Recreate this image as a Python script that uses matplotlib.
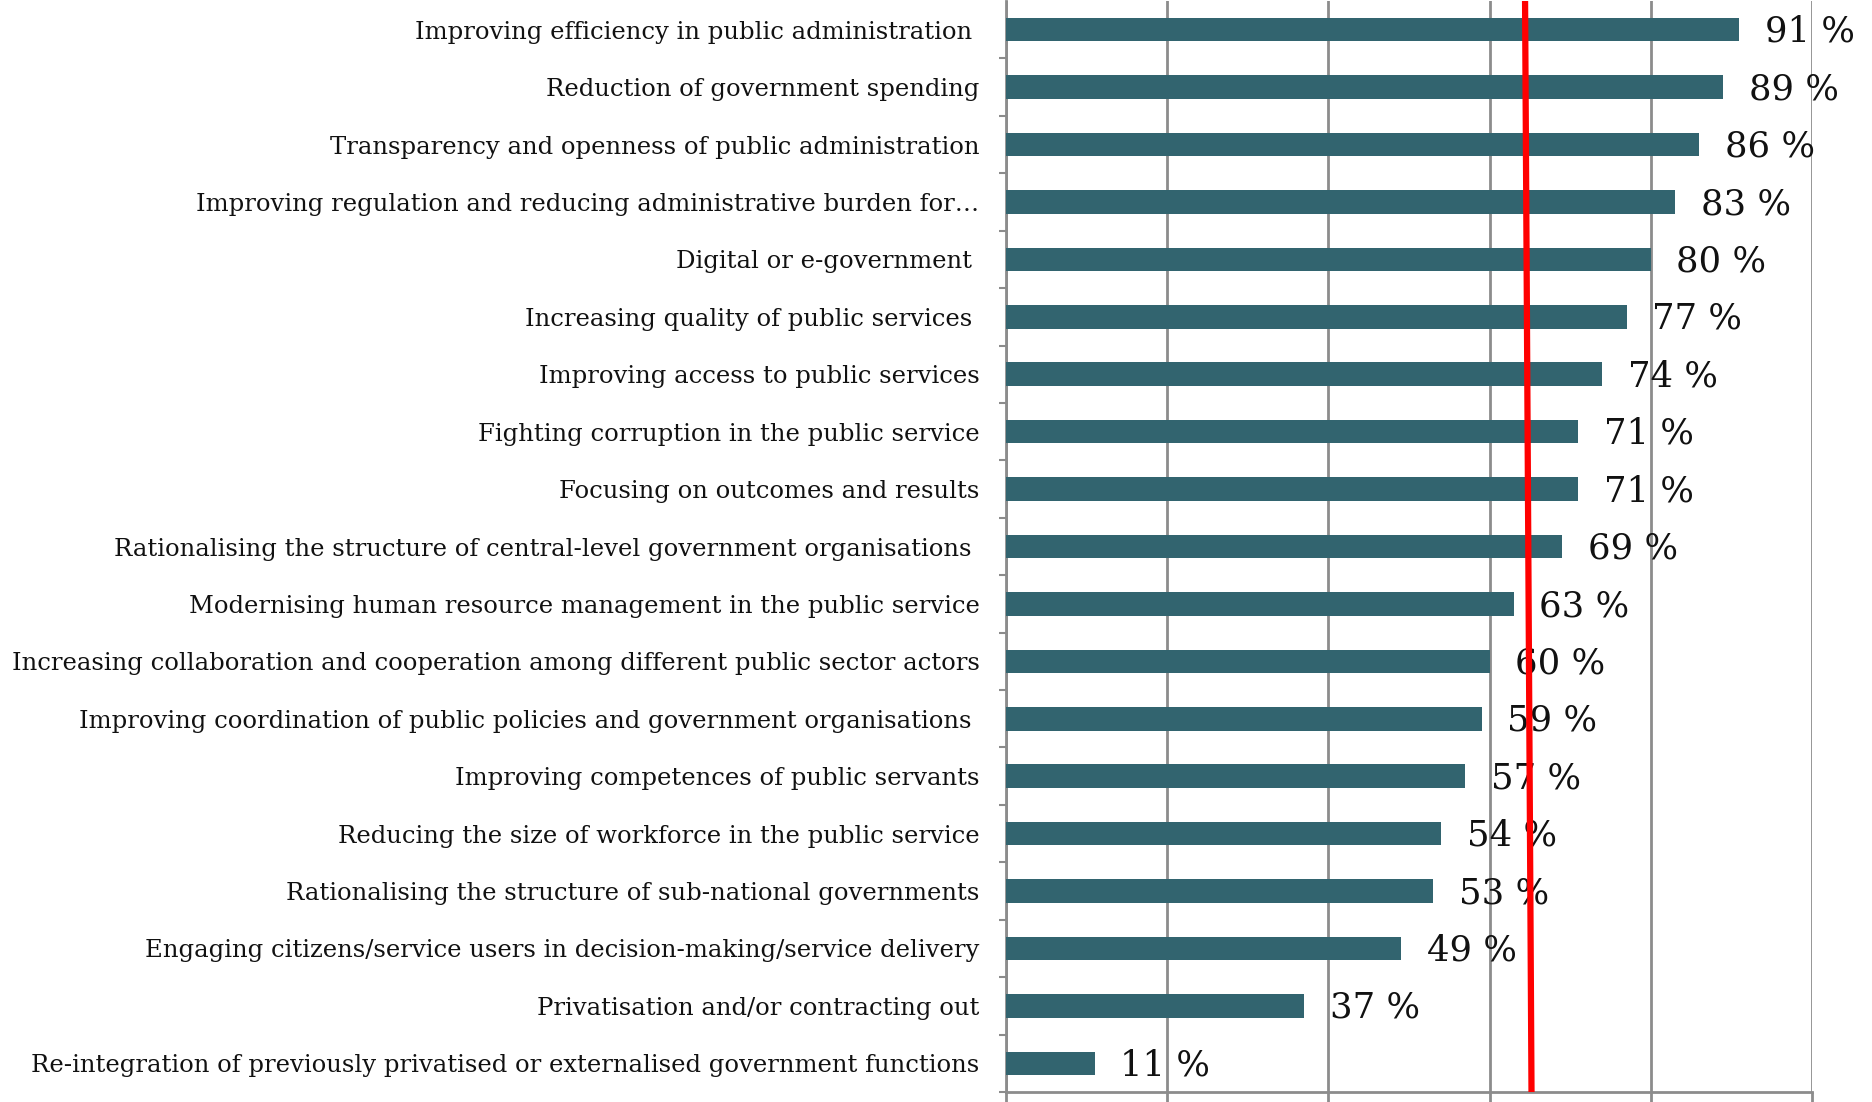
import matplotlib.pyplot as plt
from matplotlib.ticker import MultipleLocator

categories = [
    "Improving efficiency in public administration ",
    "Reduction of government spending",
    "Transparency and openness of public administration",
    "Improving regulation and reducing administrative burden for\u2026",
    "Digital or e-government ",
    "Increasing quality of public services ",
    "Improving access to public services",
    "Fighting corruption in the public service",
    "Focusing on outcomes and results",
    "Rationalising the structure of central-level government organisations ",
    "Modernising human resource management in the public service",
    "Increasing collaboration and cooperation among different public sector actors",
    "Improving coordination of public policies and government organisations ",
    "Improving competences of public servants",
    "Reducing the size of workforce in the public service",
    "Rationalising the structure of sub-national governments",
    "Engaging citizens/service users in decision-making/service delivery",
    "Privatisation and/or contracting out",
    "Re-integration of previously privatised or externalised government functions",
]
values = [91, 89, 86, 83, 80, 77, 74, 71, 71, 69, 63, 60, 59, 57, 54, 53, 49, 37, 11]

# hand-drawn average line (slightly tilted)
avg_top, avg_bottom = 64.4, 65.2

bar_color = "#32646f"
grid_color = "#8c8c8c"

fig = plt.figure(figsize=(18.72, 11.02), dpi=100)
ax = fig.add_axes([1006 / 1872, 10 / 1102, 806 / 1872, 1091 / 1102])

y = list(range(len(categories)))
ax.barh(y, values, height=0.41, color=bar_color, zorder=3)

for yi, v in zip(y, values):
    ax.annotate(f"{v} %", (v, yi), xytext=(18.5, -1.5), textcoords="offset points",
                va="center", ha="left", fontsize=25.5, family="DejaVu Serif",
                color="#111111", zorder=4)

ax.plot([avg_top, avg_bottom], [-0.5, len(categories) - 0.5], color="#ff0000",
        lw=4.5, zorder=5, solid_capstyle="butt")

ax.set_xlim(0, 100)
ax.set_ylim(len(categories) - 0.5, -0.5)
ax.xaxis.set_major_locator(MultipleLocator(20))
ax.set_xticklabels([])
ax.grid(axis="x", color=grid_color, lw=2, zorder=0)

ax.set_yticks(y)
ax.set_yticklabels(categories, fontsize=17.5, family="DejaVu Serif", color="#111111")
ax.set_yticks([i + 0.5 for i in y], minor=True)
ax.tick_params(axis="y", which="major", length=0, pad=19)
ax.tick_params(axis="y", which="minor", length=5, width=1.5, color=grid_color)
ax.tick_params(axis="x", length=8, width=2, color=grid_color, direction="out")

for s in ["top", "right"]:
    ax.spines[s].set_visible(False)
for s in ["left", "bottom"]:
    ax.spines[s].set_color(grid_color)
    ax.spines[s].set_linewidth(2)

fig.savefig("out.png", dpi=100)
